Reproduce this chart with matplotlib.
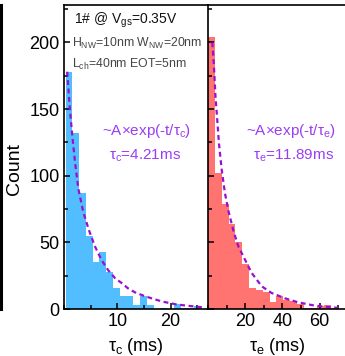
import numpy as np
import matplotlib.pyplot as plt
from matplotlib.lines import Line2D
from matplotlib.ticker import MultipleLocator

plt.rcParams['font.family'] = ['Liberation Sans', 'DejaVu Sans']
plt.rcParams['mathtext.fontset'] = 'custom'
plt.rcParams['mathtext.rm'] = 'Liberation Sans'
plt.rcParams['mathtext.it'] = 'Liberation Sans'
plt.rcParams['mathtext.bf'] = 'Liberation Sans:bold'

# capture times (left panel), histogram
tc_bin_start = 0.29
tc_bin_width = 1.27
tc_counts = [178, 132, 87, 55, 35, 43, 28, 16, 10, 10, 3, 10, 3, 0, 1, 0, 4, 1, 1, 2, 0]

# fitted curve (dashed)
tc_fit_t = [0.6, 1.1, 1.6, 2.1, 2.7, 3.6, 4.6, 5.8, 7.0, 8.3, 9.6, 10.8, 12.0,
            13.3, 14.9, 16.8, 18.5, 21.0, 23.0, 25.5, 26.5]
tc_fit_y = [178, 150, 128, 109, 90, 73, 60, 47, 37, 29, 23, 19.5, 15.5,
            12.5, 10, 7.5, 5.5, 3.5, 2.5, 1.5, 1.2]

# emission times (right panel)
te_bin_start = 0.1
te_bin_width = 3.67
te_counts = [204, 102, 79, 64, 50, 34, 16, 14, 13, 5, 10, 7, 6, 4, 1, 1, 2, 3, 1]

te_fit_t = [2.3, 3.2, 4.0, 4.8, 5.9, 7.4, 9.1, 10.9, 13.6, 16.3, 19.9, 23.5,
            28.9, 34.2, 41.4, 48.5, 57.5, 66.5, 70.0]
te_fit_y = [200, 182, 160, 145, 124, 104, 87, 74, 59, 47, 37, 27,
            17, 12, 8, 5, 2.5, 1.3, 0.8]

blue = '#52BEFF'
red = '#FF7470'
purple = '#9A10D0'
txt_purple = '#9B3DF5'

fig = plt.figure(figsize=(3.45, 3.56), dpi=100)
ax1 = fig.add_axes([64 / 345, 1 - 309 / 356, 144 / 345, 304 / 356])
ax2 = fig.add_axes([208 / 345, 1 - 309 / 356, 139.5 / 345, 304 / 356])

# histograms
tc_edges = tc_bin_start + tc_bin_width * np.arange(len(tc_counts) + 1)
te_edges = te_bin_start + te_bin_width * np.arange(len(te_counts) + 1)
ax1.stairs(tc_counts, tc_edges, fill=True, color=blue, linewidth=0)
ax2.stairs(te_counts, te_edges, fill=True, color=red, linewidth=0)

ax1.plot(tc_fit_t, tc_fit_y, ls=(0, (2.2, 1.6)), color=purple, lw=1.6)
ax2.plot(te_fit_t, te_fit_y, ls=(0, (2.2, 1.6)), color=purple, lw=1.6)

ax1.set_xlim(0, 27)
ax2.set_xlim(0, 75)
for ax in (ax1, ax2):
    ax.set_ylim(0, 228)
    ax.yaxis.set_major_locator(MultipleLocator(50))
    ax.yaxis.set_minor_locator(MultipleLocator(25))
    ax.tick_params(which='both', direction='in', top=False, right=False,
                   labelsize=13, width=1.1, pad=3)
    ax.tick_params(which='major', length=4.5)
    ax.tick_params(which='minor', length=3)
    for s in ax.spines.values():
        s.set_linewidth(1.2)

ax1.set_xticks([10, 20])
ax1.xaxis.set_minor_locator(MultipleLocator(5))
ax2.set_xticks([20, 40, 60])
ax2.xaxis.set_minor_locator(MultipleLocator(10))
ax2.tick_params(axis='y', labelleft=False)
ax1.spines['right'].set_visible(False)
ax2.spines['right'].set_visible(False)

ax1.set_ylabel('Count', fontsize=14)
ax1.yaxis.set_label_coords(-0.285, 0.46)
ax1.set_xlabel(r'$\tau_{\rm c}$ (ms)', fontsize=13, labelpad=4)
ax2.set_xlabel(r'$\tau_{\rm e}$ (ms)', fontsize=13, labelpad=4)

# annotations
ax1.text(0.07, 0.95, r'1# @ V$_{\rm gs}$=0.35V', transform=ax1.transAxes,
         fontsize=10, va='center', ha='left', color='#111111')
ax1.text(0.055, 0.872, r'H$_{\rm NW}$=10nm W$_{\rm NW}$=20nm', transform=ax1.transAxes,
         fontsize=8.8, va='center', ha='left', color='#444444')
ax1.text(0.055, 0.803, r'L$_{\rm ch}$=40nm EOT=5nm', transform=ax1.transAxes,
         fontsize=8.8, va='center', ha='left', color='#444444')

ax1.text(0.57, 0.585, r'~A×exp(-t/$\tau_{\rm c}$)', transform=ax1.transAxes,
         fontsize=11, ha='center', va='center', color=txt_purple)
ax1.text(0.565, 0.505, r'$\tau_{\rm c}$=4.21ms', transform=ax1.transAxes,
         fontsize=11, ha='center', va='center', color=txt_purple)
ax2.text(0.595, 0.585, r'~A×exp(-t/$\tau_{\rm e}$)', transform=ax2.transAxes,
         fontsize=11, ha='center', va='center', color=txt_purple)
ax2.text(0.615, 0.505, r'$\tau_{\rm e}$=11.89ms', transform=ax2.transAxes,
         fontsize=11, ha='center', va='center', color=txt_purple)

# edge of neighbouring panel at the far left
fig.add_artist(Line2D([1.2 / 345, 1.2 / 345], [1 - 5 / 356, 1 - 309 / 356],
                      transform=fig.transFigure, color='black', lw=2.2))

fig.savefig('out.png', dpi=100)
